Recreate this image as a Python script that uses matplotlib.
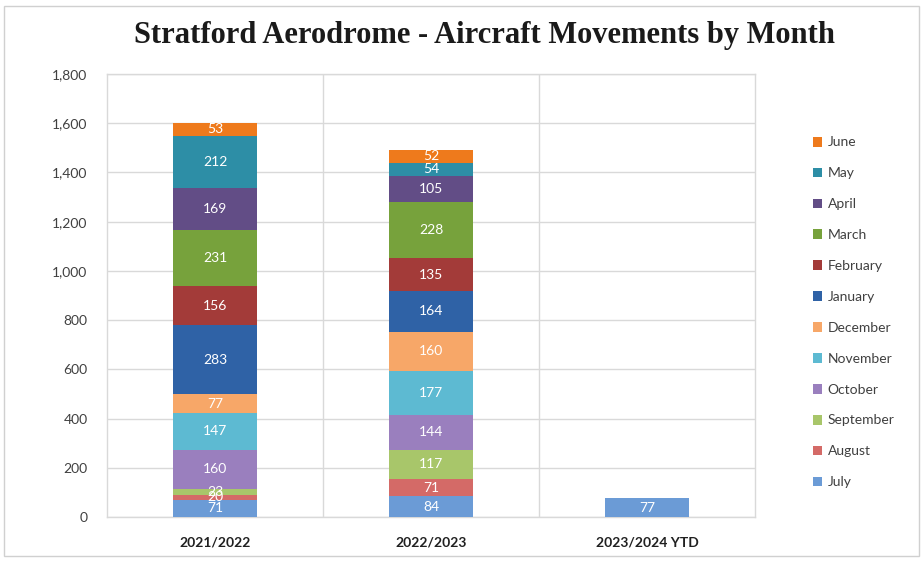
import matplotlib
matplotlib.use("Agg")
import matplotlib.pyplot as plt
from matplotlib.patches import Rectangle

plt.rcParams['font.family'] = ['Lato', 'DejaVu Sans']

categories = ["2021/2022", "2022/2023", "2023/2024 YTD"]
months = ["July", "August", "September", "October", "November", "December",
          "January", "February", "March", "April", "May", "June"]
values = {
    "July":      [71, 84, 77],
    "August":    [20, 71, 0],
    "September": [23, 117, 0],
    "October":   [160, 144, 0],
    "November":  [147, 177, 0],
    "December":  [77, 160, 0],
    "January":   [283, 164, 0],
    "February":  [156, 135, 0],
    "March":     [231, 228, 0],
    "April":     [169, 105, 0],
    "May":       [212, 54, 0],
    "June":      [53, 52, 0],
}
colors = {
    "July": "#6B9BD6", "August": "#D46A67", "September": "#A8C66A",
    "October": "#9A7FBE", "November": "#5DBAD2", "December": "#F7A768",
    "January": "#2F62A6", "February": "#A33B39", "March": "#77A23C",
    "April": "#624D86", "May": "#2D8EA6", "June": "#EE7A1C",
}

fig = plt.figure(figsize=(9.23, 5.62), dpi=100)
ax = fig.add_axes([107/923, 1-517/562, 648/923, 443/562])

x = list(range(len(categories)))
bottom = [0]*len(categories)
handles = []
for m in months:
    vals = values[m]
    bars = ax.bar(x, vals, width=0.39, bottom=bottom, color=colors[m], label=m, zorder=3)
    handles.append(bars)
    for i, v in enumerate(vals):
        if v > 0:
            ax.text(x[i], bottom[i] + v/2, str(v), ha='center', va='center',
                    color='white', fontsize=10, zorder=4)
    bottom = [b + v for b, v in zip(bottom, vals)]

ax.set_xlim(-0.5, 2.5)
ax.set_ylim(0, 1800)
ax.set_yticks(range(0, 1801, 200))
ax.set_yticklabels([f"{t:,}" for t in range(0, 1801, 200)], fontsize=10, color='#404040')
ax.set_xticks(x)
ax.set_xticklabels(categories, fontsize=10, fontweight='bold', color='#202020')
ax.tick_params(axis='both', length=0)
ax.tick_params(axis='y', pad=14)
ax.tick_params(axis='x', pad=14)
ax.set_xticks([0.5, 1.5], minor=True)
ax.grid(axis='y', color='#D9D9D9', linewidth=1, zorder=0)
ax.grid(axis='x', which='minor', color='#D9D9D9', linewidth=1, zorder=0)
ax.tick_params(axis='x', which='minor', length=0)
for s in ax.spines.values():
    s.set_color('#D9D9D9')
    s.set_linewidth(1)

fig.text(485/923, 1-36/562, "Stratford Aerodrome - Aircraft Movements by Month",
         ha='center', va='center', fontsize=22, fontweight='bold',
         family=['Liberation Serif'], color='#1a1a1a')

leg = fig.legend(handles[::-1], months[::-1], loc='upper left',
                 bbox_to_anchor=(800/923, 1-124/562), frameon=False,
                 fontsize=10, handlelength=0.7, handleheight=0.7,
                 labelspacing=1.36, handletextpad=0.4)
for t in leg.get_texts():
    t.set_color('#404040')

fig.patches.append(Rectangle((4/923, 0.01), 1-8/923, 1-0.02, transform=fig.transFigure,
                             fill=False, edgecolor='#D0D0D0', linewidth=1))

fig.savefig("out.png", dpi=100)
